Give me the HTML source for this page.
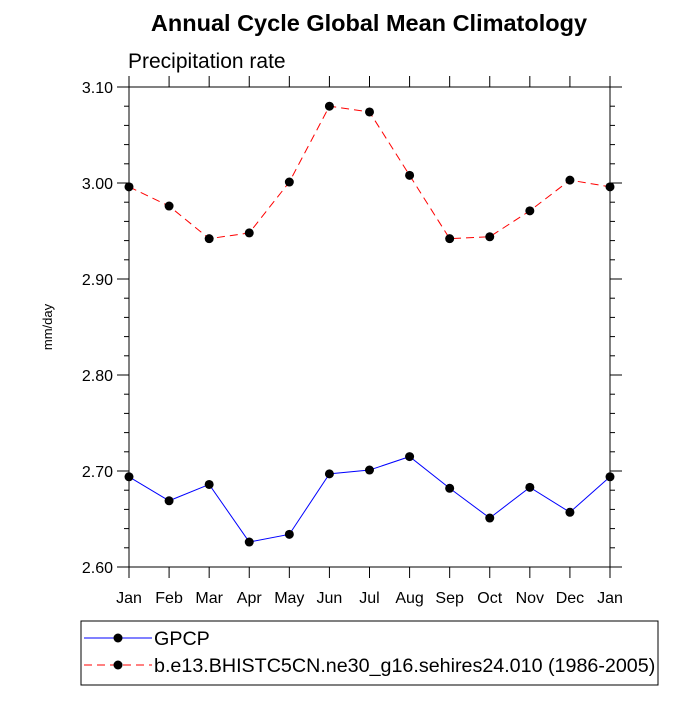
<!DOCTYPE html>
<html><head><style>body{margin:0;background:#fff}svg text{font-family:"Liberation Sans",sans-serif}</style></head>
<body>
<svg width="700" height="700" xmlns="http://www.w3.org/2000/svg">
<text x="369" y="31" text-anchor="middle" font-size="23.5" font-weight="bold">Annual Cycle Global Mean Climatology</text>
<text x="128" y="68" font-size="21">Precipitation rate</text>
<text transform="translate(52,327) rotate(-90)" text-anchor="middle" font-size="13">mm/day</text>
<g id="axes"></g>
<g id="series"></g>
<rect x="81" y="621" width="577" height="64" fill="none" stroke="#000" stroke-width="1"/>
<g>
<line x1="84" y1="638" x2="152" y2="638" stroke="#00f"/><circle cx="118" cy="638" r="4.5"/>
<text x="154" y="645" font-size="19.7">GPCP</text></g>
<g>
<line x1="84" y1="665" x2="152" y2="665" stroke="#f00" stroke-dasharray="8,5"/><circle cx="118" cy="665" r="4.5"/>
<text x="154" y="672" font-size="19.7">b.e13.BHISTC5CN.ne30_g16.sehires24.010 (1986-2005)</text></g>
</svg>
<script>
const months=["Jan","Feb","Mar","Apr","May","Jun","Jul","Aug","Sep","Oct","Nov","Dec","Jan"];
const gpcp=[2.694,2.669,2.686,2.626,2.634,2.697,2.701,2.715,2.682,2.651,2.683,2.657,2.694];
const model=[2.996,2.976,2.942,2.948,3.001,3.080,3.074,3.008,2.942,2.944,2.971,3.003,2.996];
const yTicks=["2.60","2.70","2.80","2.90","3.00","3.10"];
const L=129,R=610,T=87,B=567,ymin=2.6,ymax=3.1;
const xs=i=>L+(R-L)*i/(months.length-1);
const ys=v=>B-(v-ymin)/(ymax-ymin)*(B-T);
const NS="http://www.w3.org/2000/svg";
function mk(tag,attrs,parent){const e=document.createElementNS(NS,tag);for(const k in attrs)e.setAttribute(k,attrs[k]);parent.appendChild(e);return e;}
const ax=document.getElementById('axes');
const frame=mk('rect',{x:L,y:T,width:R-L,height:B-T,fill:'none',stroke:'#000','stroke-width':1},ax);


months.forEach((m,i)=>{const x=xs(i);
mk('line',{x1:x,y1:B,x2:x,y2:B+11,stroke:'#000'},ax);
mk('line',{x1:x,y1:T,x2:x,y2:T-11,stroke:'#000'},ax);
const t=mk('text',{x:x,y:B+36,'text-anchor':'middle','font-size':16},ax);t.textContent=m;

});
for(let k=0;k<=25;k++){const v=ymin+k*0.02,y=ys(v),maj=k%5==0,len=maj?12:5;
mk('line',{x1:L-len,y1:y,x2:L,y2:y,stroke:'#000'},ax);
mk('line',{x1:R,y1:y,x2:R+len,y2:y,stroke:'#000'},ax);}
yTicks.forEach(s=>{const t=mk('text',{x:L-16,y:ys(+s)+6,'text-anchor':'end','font-size':16},ax);t.textContent=s;

});
const sg=document.getElementById('series');
function series(vals,color,dash,name){
const pts=vals.map((v,i)=>xs(i)+','+ys(v)).join(' ');
const pl=mk('polyline',{points:pts,fill:'none',stroke:color,'stroke-width':1,'stroke-dasharray':dash},sg);


vals.forEach((v,i)=>{const c=mk('circle',{cx:xs(i),cy:ys(v),r:4.5,fill:'#000'},sg);

});}
series(gpcp,'#00f','none','gpcp');
series(model,'#f00','8,5','model');
</script>
</body></html>
